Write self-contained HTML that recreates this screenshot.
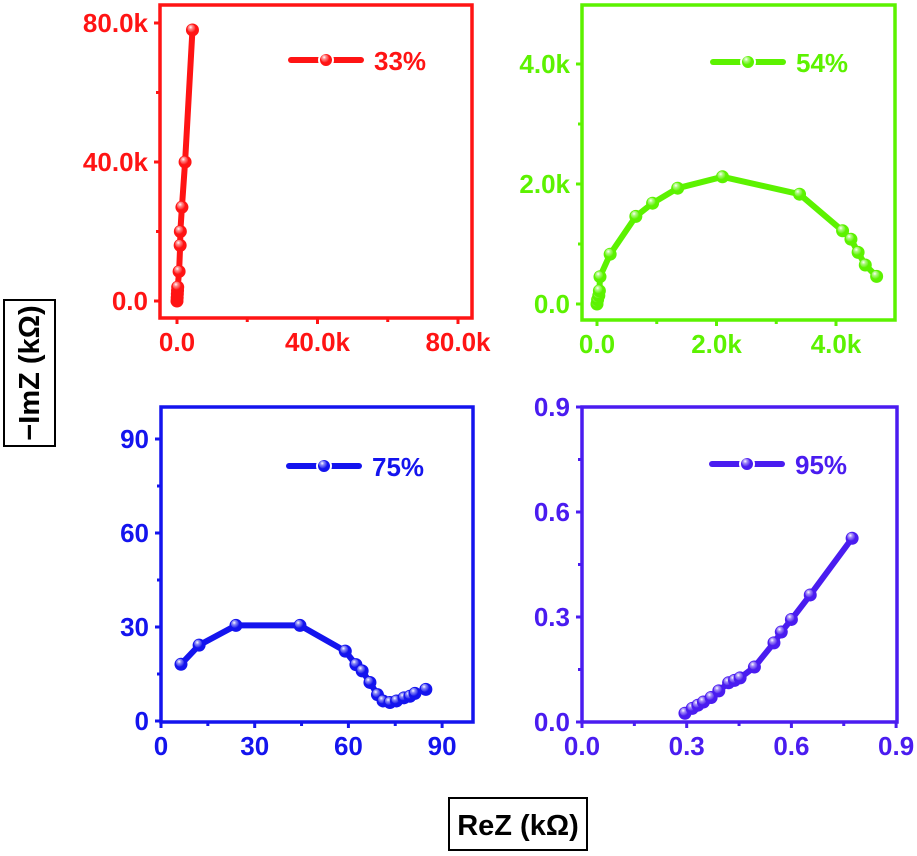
<!DOCTYPE html>
<html><head><meta charset="utf-8"><style>
body{margin:0;background:#fff;}
svg{display:block;font-family:"Liberation Sans",Arial,sans-serif;font-weight:bold;}
</style></head><body>
<svg id="fig" width="917" height="856" viewBox="0 0 917 856">
<defs>
<radialGradient id="gr" cx="0.4" cy="0.35" r="0.7"><stop offset="0" stop-color="#fff"/><stop offset="0.35" stop-color="#fff" stop-opacity="0.5"/><stop offset="1" stop-color="#fff" stop-opacity="0"/></radialGradient>
</defs>
<g>
<rect x="4" y="300" width="51" height="146" fill="#fff" stroke="#000" stroke-width="2"/>
<text transform="translate(39,373) rotate(-90)" text-anchor="middle" font-size="29" fill="#000">−ImZ (kΩ)</text>
</g>
<g>
<rect x="449" y="798" width="138" height="52" fill="#fff" stroke="#000" stroke-width="2"/>
<text x="518" y="835" text-anchor="middle" font-size="29" fill="#000">ReZ (kΩ)</text>
</g>
</svg>
<script>
// Panel 33%
const x33 = [0, 0.05, 0.1, 0.15, 0.2, 0.6, 0.9, 0.95, 1.4, 2.3, 4.4];
const y33 = [0, 1, 2, 3, 4, 8.5, 16, 20, 27, 40, 78];
// Panel 54%
const x54 = [0, 0.01, 0.03, 0.04, 0.05, 0.22, 0.65, 0.93, 1.35, 2.10, 3.39, 4.11, 4.25, 4.37, 4.49, 4.68];
const y54 = [0, 0.07, 0.14, 0.22, 0.455, 0.83, 1.46, 1.68, 1.93, 2.12, 1.83, 1.22, 1.08, 0.86, 0.65, 0.46];
// Panel 75%
const x75 = [6.4, 12.2, 24, 44.5, 59, 62.4, 64.4, 66.9, 69.3, 71.1, 73.3, 75.4, 77.8, 79.7, 81.3, 84.8];
const y75 = [18.1, 24.2, 30.5, 30.5, 22.3, 18, 16, 12.3, 8.4, 6.4, 5.9, 6.4, 7.4, 7.9, 8.8, 10.1];
// Panel 95%
const x95 = [0.295, 0.316, 0.332, 0.348, 0.37, 0.392, 0.42, 0.437, 0.453, 0.494, 0.55, 0.571, 0.6, 0.654, 0.774];
const y95 = [0.025, 0.039, 0.048, 0.057, 0.07, 0.089, 0.112, 0.119, 0.126, 0.157, 0.226, 0.257, 0.293, 0.363, 0.525];
const ticks33 = ["0.0", "40.0k", "80.0k"];
const ticks54 = ["0.0", "2.0k", "4.0k"];
const ticks75 = ["0", "30", "60", "90"];
const ticks95 = ["0.0", "0.3", "0.6", "0.9"];
const tickVals33 = [0, 40, 80];
const tickVals54 = [0, 2, 4];
const tickVals75 = [0, 30, 60, 90];
const tickVals95 = [0, 0.3, 0.6, 0.9];

const NS = "http://www.w3.org/2000/svg";
const svg = document.getElementById('fig');
function mk(tag, attrs, parent){const e=document.createElementNS(NS,tag);for(const k in attrs)e.setAttribute(k,attrs[k]);parent.appendChild(e);return e;}

function panel(cfg){
  const g = mk('g',{},svg);
  
  
  const {L,T,R,B,x0,x1,px0,px1,y0,y1,py0,py1,col} = cfg;
  const sx = v => px0 + (v - x0) / (x1 - x0) * (px1 - px0);
  const sy = v => py0 - (v - y0) / (y1 - y0) * (py0 - py1);
  const fr = mk('rect',{x:L,y:T,width:R-L,height:B-T,fill:'none',stroke:col,'stroke-width':3.5},g);
  
  
  const tv = cfg.tickVals;
  for(let i=0;i<tv.length;i++){
    const X = sx(tv[i]);
    mk('line',{x1:X,y1:B,x2:X,y2:B+6,stroke:col,'stroke-width':3},g);
    const t = mk('text',{x:X,y:B+33,'text-anchor':'middle','font-size':26,fill:col},g);
    t.textContent = cfg.ticks[i];
    
    
    if(i<tv.length-1){const Xm=sx((tv[i]+tv[i+1])/2);mk('line',{x1:Xm,y1:B,x2:Xm,y2:B+4,stroke:col,'stroke-width':3},g);}
  }
  const yv = cfg.yTickVals, yl = cfg.yTicks;
  for(let i=0;i<yv.length;i++){
    const Y = sy(yv[i]);
    mk('line',{x1:L,y1:Y,x2:L-6,y2:Y,stroke:col,'stroke-width':3},g);
    const t = mk('text',{x:L-12,y:Y+9,'text-anchor':'end','font-size':26,fill:col},g);
    t.textContent = yl[i];
    
    
    if(i<yv.length-1){const Ym=sy((yv[i]+yv[i+1])/2);mk('line',{x1:L,y1:Ym,x2:L-4,y2:Ym,stroke:col,'stroke-width':3},g);}
  }
  const xs = cfg.xs, ys = cfg.ys;
  const pts = xs.map((v,i)=>sx(v)+','+sy(ys[i])).join(' ');
  const pl = mk('polyline',{points:pts,fill:'none',stroke:col,'stroke-width':6,'stroke-linejoin':'round','stroke-linecap':'round'},g);
  
  
  for(let i=0;i<xs.length;i++){
    const c = mk('circle',{cx:sx(xs[i]),cy:sy(ys[i]),r:6.5,fill:col},g);
    
    
    mk('circle',{cx:sx(xs[i])-1,cy:sy(ys[i])-1.5,r:4,fill:'url(#gr)'},g);
  }
  const lg = mk('g',{},g);
  
  
  const [lx,ly] = cfg.leg;
  mk('line',{x1:lx,y1:ly,x2:lx+70,y2:ly,stroke:col,'stroke-width':6,'stroke-linecap':'round'},lg);
  mk('circle',{cx:lx+35,cy:ly,r:7,fill:col,stroke:'#fff','stroke-width':2},lg);
  mk('circle',{cx:lx+34,cy:ly-1.5,r:4,fill:'url(#gr)'},lg);
  const lt = mk('text',{x:lx+83,y:ly+10,'font-size':26,fill:col},lg);
  lt.textContent = cfg.label;
}

panel({name:'33', L:160,T:5,R:472,B:318, x0:0,x1:40,px0:177,px1:317.5, y0:0,y1:40,py0:301,py1:162,
  col:'#ff1414', xs:x33, ys:y33, ticks:ticks33, tickVals:tickVals33, yTicks:["0.0","40.0k","80.0k"], yTickVals:tickVals33,
  leg:[291,60], label:'33%'});
panel({name:'54', L:582,T:5,R:895,B:320, x0:0,x1:2,px0:597,px1:716.5, y0:0,y1:2,py0:304,py1:184,
  col:'#5cf200', xs:x54, ys:y54, ticks:ticks54, tickVals:tickVals54, yTicks:ticks54, yTickVals:[0,2,4],
  leg:[713,62], label:'54%'});
panel({name:'75', L:161,T:407,R:473,B:722, x0:0,x1:30,px0:161,px1:254.7, y0:0,y1:30,py0:721,py1:627,
  col:'#1414ee', xs:x75, ys:y75, ticks:ticks75, tickVals:tickVals75, yTicks:ticks75, yTickVals:tickVals75,
  leg:[289,466], label:'75%'});
panel({name:'95', L:582,T:407,R:897,B:722, x0:0,x1:0.3,px0:582,px1:686.7, y0:0,y1:0.3,py0:722,py1:617,
  col:'#4a1cf0', xs:x95, ys:y95, ticks:ticks95, tickVals:tickVals95, yTicks:ticks95, yTickVals:tickVals95,
  leg:[712,464], label:'95%'});
</script>
</body></html>
